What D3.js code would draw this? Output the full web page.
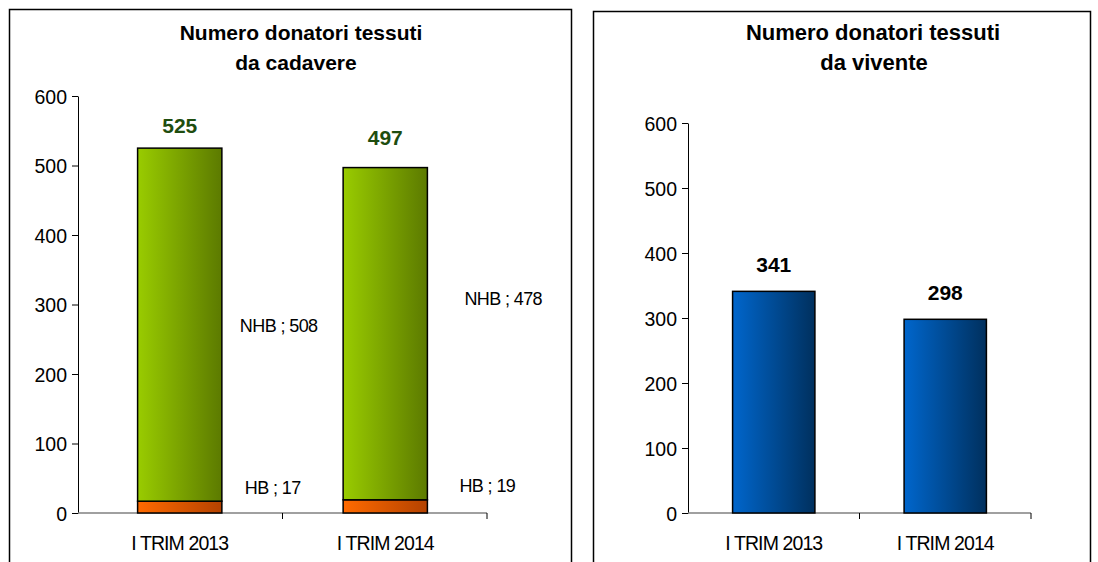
<!DOCTYPE html>
<html>
<head>
<meta charset="utf-8">
<script src="https://cdn.jsdelivr.net/npm/d3@7"></script>
<style>
body { margin: 0; background: #fff; }
svg { display: block; font-family: Arial, "Liberation Sans", sans-serif; }
</style>
</head>
<body>
<svg id="chart" width="1098" height="562"></svg>
<script>
var categories = ["I TRIM 2013", "I TRIM 2014"];
var hbValues = [17, 19];
var nhbValues = [508, 478];
var totals = [525, 497];
var viventeValues = [341, 298];
var yTicks = [0, 100, 200, 300, 400, 500, 600];

var svg = d3.select("#chart");
var defs = svg.append("defs");

function addGradient(id, c1, c2) {
    var g = defs.append("linearGradient").attr("id", id)
        .attr("x1", "0%").attr("x2", "100%").attr("y1", "0%").attr("y2", "0%");
    g.append("stop").attr("offset", "0%").attr("stop-color", c1);
    g.append("stop").attr("offset", "100%").attr("stop-color", c2);
}
addGradient("gGreen", "#99cc00", "#5c7a00");
addGradient("gOrange", "#ff6a00", "#b44200");
addGradient("gBlue", "#0066cc", "#00305e");

// panel frames (bottom edge is cut off in the original)
svg.append("path").attr("d", "M9.5,562 V9.5 H571.5 V562").attr("fill", "none").attr("stroke", "#000").attr("stroke-width", 1.5);
svg.append("path").attr("d", "M593.5,562 V11.5 H1090.5 V562").attr("fill", "none").attr("stroke", "#000").attr("stroke-width", 1.5);

function drawAxes(g, x, y, x0, x1) {
    // y axis
    var yAxis = d3.axisLeft(y).tickValues(yTicks).tickSize(6).tickSizeOuter(0);
    var ya = g.append("g").attr("transform", "translate(" + x0 + ",0)").call(yAxis);
    ya.select(".domain").attr("stroke", "#000");
    ya.selectAll(".tick line").attr("stroke", "#000");
    ya.selectAll("text").attr("font-size", "19.5px").attr("fill", "#000")
        .attr("font-family", "Arial, 'Liberation Sans', sans-serif").attr("x", -11).attr("dy", "0.36em");

    // x axis
    var xAxis = d3.axisBottom(x).tickSize(0);
    var xa = g.append("g").attr("transform", "translate(0," + y(0) + ")").call(xAxis);
    xa.select(".domain").remove();
    xa.selectAll("text").attr("font-size", "19.5px").attr("fill", "#000").attr("y", 37).attr("dy", 0)
        .attr("font-family", "Arial, 'Liberation Sans', sans-serif").attr("letter-spacing", "-0.9px");
    g.append("line").attr("x1", x0).attr("x2", x1).attr("y1", y(0)).attr("y2", y(0))
        .attr("stroke", "#808080").attr("stroke-width", 1.5);
    // category separators at band edges
    var seps = categories.map(function (c, i) { return x0 + (i + 1) * (x1 - x0) / categories.length; });
    g.selectAll(".sep").data(seps).enter().append("line")
        .attr("x1", function (d) { return d; }).attr("x2", function (d) { return d; })
        .attr("y1", y(0)).attr("y2", y(0) + 6).attr("stroke", "#000");
}

function title(g, cx, lines, size) {
    g.selectAll(".title").data(lines).enter().append("text")
        .attr("x", function (d, i) { return cx[i]; }).attr("y", function (d, i) { return 40 + i * 30; })
        .attr("text-anchor", "middle").attr("font-size", size).attr("font-weight", "bold")
        .text(function (d) { return d; });
}

// ---- left chart: da cadavere ----
var L = svg.append("g");
var lx0 = 78, lx1 = 487;
var xL = d3.scaleBand().domain(categories).range([lx0, lx1]).paddingInner(0.59).paddingOuter(0.29);
var yL = d3.scaleLinear().domain([0, 600]).range([513, 96]);

title(L, [301, 296], ["Numero donatori tessuti", "da cadavere"], "21px");
drawAxes(L, xL, yL, lx0, lx1);

L.selectAll(".hb").data(hbValues).enter().append("rect")
    .attr("x", function (d, i) { return xL(categories[i]); })
    .attr("width", xL.bandwidth())
    .attr("y", function (d) { return yL(d); })
    .attr("height", function (d) { return yL(0) - yL(d); })
    .attr("fill", "url(#gOrange)").attr("stroke", "#000").attr("stroke-width", 1.5);

L.selectAll(".nhb").data(nhbValues).enter().append("rect")
    .attr("x", function (d, i) { return xL(categories[i]); })
    .attr("width", xL.bandwidth())
    .attr("y", function (d, i) { return yL(d + hbValues[i]); })
    .attr("height", function (d, i) { return yL(hbValues[i]) - yL(d + hbValues[i]); })
    .attr("fill", "url(#gGreen)").attr("stroke", "#000").attr("stroke-width", 1.5);

L.selectAll(".tot").data(totals).enter().append("text")
    .attr("x", function (d, i) { return xL(categories[i]) + xL.bandwidth() / 2; })
    .attr("y", function (d, i) { return yL(d) - (i === 0 ? 15 : 23); })
    .attr("text-anchor", "middle").attr("font-size", "21px").attr("font-weight", "bold")
    .attr("fill", "#1e4d0f").text(function (d) { return d; });

// data labels placed to the right of the bars, as in the original
L.selectAll(".nhbLab").data(nhbValues).enter().append("text")
    .attr("x", function (d, i) { return xL(categories[i]) + xL.bandwidth() + (i === 0 ? 18 : 37); })
    .attr("y", function (d, i) { return yL(hbValues[i] + d / 2) + (i === 0 ? 7 : -29); })
    .attr("font-size", "18px").attr("fill", "#000").attr("letter-spacing", "-0.6px")
    .text(function (d) { return "NHB ; " + d; });

L.selectAll(".hbLab").data(hbValues).enter().append("text")
    .attr("x", function (d, i) { return xL(categories[i]) + xL.bandwidth() + (i === 0 ? 23 : 32); })
    .attr("y", function (d, i) { return yL(d / 2) - 13 - i; })
    .attr("font-size", "18px").attr("fill", "#000").attr("letter-spacing", "-0.6px")
    .text(function (d) { return "HB ; " + d; });

// ---- right chart: da vivente ----
var R = svg.append("g");
var rx0 = 688, rx1 = 1031;
var xR = d3.scaleBand().domain(categories).range([rx0, rx1]).paddingInner(0.52).paddingOuter(0.26);
var yR = d3.scaleLinear().domain([0, 600]).range([513, 123]);

title(R, [873, 874], ["Numero donatori tessuti", "da vivente"], "22px");
drawAxes(R, xR, yR, rx0, rx1);

R.selectAll(".viv").data(viventeValues).enter().append("rect")
    .attr("x", function (d, i) { return xR(categories[i]); })
    .attr("width", xR.bandwidth())
    .attr("y", function (d) { return yR(d); })
    .attr("height", function (d) { return yR(0) - yR(d); })
    .attr("fill", "url(#gBlue)").attr("stroke", "#000").attr("stroke-width", 1.5);

R.selectAll(".vivLab").data(viventeValues).enter().append("text")
    .attr("x", function (d, i) { return xR(categories[i]) + xR.bandwidth() / 2; })
    .attr("y", function (d) { return yR(d) - 19; })
    .attr("text-anchor", "middle").attr("font-size", "21px").attr("font-weight", "bold")
    .attr("fill", "#000").text(function (d) { return d; });
</script>
</body>
</html>
